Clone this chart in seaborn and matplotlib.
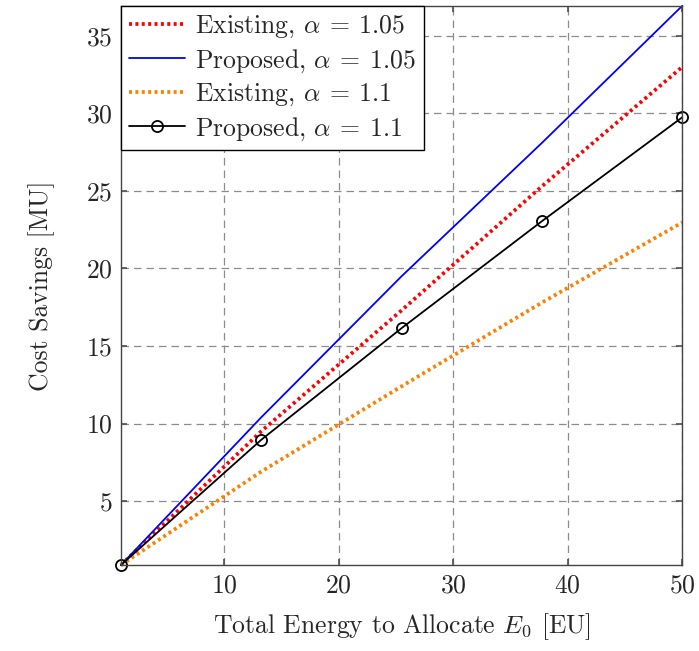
import numpy as np
import pandas as pd
import matplotlib
matplotlib.use("Agg")
import matplotlib.pyplot as plt
import seaborn as sns

sns.set_theme(style="ticks")
plt.rcParams["font.family"] = "serif"
plt.rcParams["font.serif"] = ["cmr10", "DejaVu Serif"]
plt.rcParams["mathtext.fontset"] = "cm"
plt.rcParams["axes.formatter.use_mathtext"] = True

# values
energy = [1, 13.25, 25.5, 37.75, 50]
existing_105 = [0.87, 9.5, 17.3, 25.3, 33.0]
proposed_105 = [0.87, 10.4, 19.5, 28.1, 36.94]
existing_11 = [0.87, 6.9, 12.4, 17.8, 22.97]
proposed_11 = [0.87, 8.95, 16.15, 23.05, 29.75]

df = pd.DataFrame({
    "E0": energy,
    "ex105": existing_105,
    "pr105": proposed_105,
    "ex11": existing_11,
    "pr11": proposed_11,
})

fig = plt.figure(figsize=(6.99, 6.51), dpi=100)
ax = fig.add_axes([0.173, 0.132, 0.803, 0.859])

dots = (0, (0.8, 0.9))
sns.lineplot(data=df, x="E0", y="ex105", ax=ax, color="#ff0000", lw=2.7,
             linestyle=dots, label=r"Existing, $\alpha \:=\: 1.05$")
sns.lineplot(data=df, x="E0", y="pr105", ax=ax, color="#0000ff", lw=1.3,
             label=r"Proposed, $\alpha \:=\: 1.05$")
sns.lineplot(data=df, x="E0", y="ex11", ax=ax, color="#ff8000", lw=2.7,
             linestyle=dots, label=r"Existing, $\alpha \:=\: 1.1$")
sns.lineplot(data=df, x="E0", y="pr11", ax=ax, color="black", lw=1.3,
             marker="o", markersize=8, markerfacecolor="none",
             markeredgecolor="black", markeredgewidth=1.3,
             label=r"Proposed, $\alpha \:=\: 1.1$")
for ln in ax.lines:
    ln.set_clip_on(False)

ax.set_xlim(1, 50)
ax.set_ylim(0.87, 36.94)
ax.set_xticks([10, 20, 30, 40, 50])
ax.set_yticks([5, 10, 15, 20, 25, 30, 35])
ax.grid(True, color="#8c8c8c", linestyle=(0, (6, 4)), lw=0.9)
ax.set_axisbelow(True)
ax.tick_params(direction="in", length=4, labelsize=18.5, color="#555555",
               top=True, right=True, pad=6)
for s in ax.spines.values():
    s.set_color("#444444")
    s.set_linewidth(1.0)

ax.set_xlabel(r"Total Energy to Allocate $E_0$ [EU]", fontsize=18.5, labelpad=10)
ax.set_ylabel("Cost Savings [MU]", fontsize=18.5, labelpad=22)

leg = ax.legend(loc="upper left", borderaxespad=0, fontsize=18.5,
                fancybox=False, edgecolor="black", framealpha=1,
                handlelength=2.2, handletextpad=0.4, labelspacing=0.28,
                borderpad=0.3)
leg.get_frame().set_linewidth(1.0)

fig.savefig("out.png", dpi=100)
